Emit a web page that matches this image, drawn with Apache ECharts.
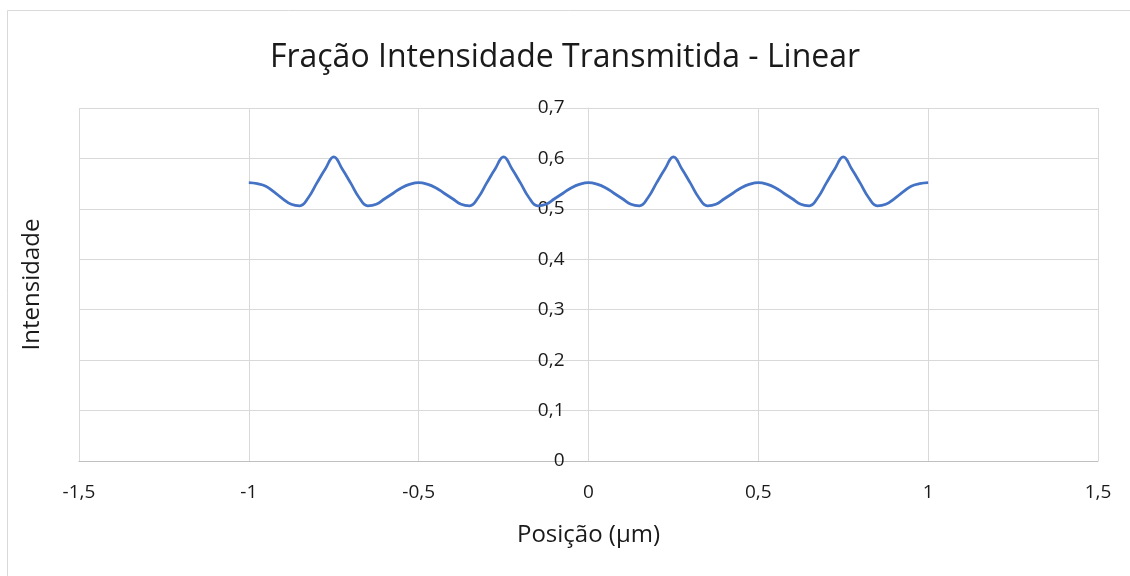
<!DOCTYPE html>
<html>
<head>
<meta charset="utf-8">
<script src="https://cdn.jsdelivr.net/npm/echarts@6/dist/echarts.min.js"></script>
<style>
  html, body { margin: 0; padding: 0; background: #fff; }
  #chart { width: 1130px; height: 576px; }
</style>
</head>
<body>
<div id="chart"></div>
<script>
// Data (position in µm, step 0.025)
const positions = [
  -1.000, -0.975, -0.950, -0.925, -0.900, -0.875, -0.850, -0.825, -0.800, -0.775,
  -0.750, -0.725, -0.700, -0.675, -0.650, -0.625, -0.600, -0.575, -0.550, -0.525,
  -0.500, -0.475, -0.450, -0.425, -0.400, -0.375, -0.350, -0.325, -0.300, -0.275,
  -0.250, -0.225, -0.200, -0.175, -0.150, -0.125, -0.100, -0.075, -0.050, -0.025,
   0.000,  0.025,  0.050,  0.075,  0.100,  0.125,  0.150,  0.175,  0.200,  0.225,
   0.250,  0.275,  0.300,  0.325,  0.350,  0.375,  0.400,  0.425,  0.450,  0.475,
   0.500,  0.525,  0.550,  0.575,  0.600,  0.625,  0.650,  0.675,  0.700,  0.725,
   0.750,  0.775,  0.800,  0.825,  0.850,  0.875,  0.900,  0.925,  0.950,  0.975,
   1.000
];
const intensity = [
  0.552, 0.550, 0.545, 0.533, 0.520, 0.509, 0.506, 0.522, 0.551, 0.579,
  0.603, 0.579, 0.551, 0.522, 0.506, 0.509, 0.520, 0.531, 0.542, 0.549,
  0.552, 0.549, 0.542, 0.531, 0.520, 0.509, 0.506, 0.522, 0.551, 0.579,
  0.603, 0.579, 0.551, 0.522, 0.506, 0.509, 0.520, 0.531, 0.542, 0.549,
  0.552, 0.549, 0.542, 0.531, 0.520, 0.509, 0.506, 0.522, 0.551, 0.579,
  0.603, 0.579, 0.551, 0.522, 0.506, 0.509, 0.520, 0.531, 0.542, 0.549,
  0.552, 0.549, 0.542, 0.531, 0.520, 0.509, 0.506, 0.522, 0.551, 0.579,
  0.603, 0.579, 0.551, 0.522, 0.506, 0.509, 0.520, 0.533, 0.545, 0.550,
  0.552
];
const xTicks = { min: -1.5, max: 1.5, interval: 0.5 };
const yTicks = { min: 0, max: 0.7, interval: 0.1 };
const titleText = 'Fração Intensidade Transmitida - Linear';
const xName = 'Posição (µm)';
const yName = 'Intensidade';

const fmt = v => String(Math.round(v * 10) / 10).replace('.', ',');
const FONT = '"Open Sans", "Noto Sans", sans-serif';
const GRID_LEFT = 79;

const chart = echarts.init(document.getElementById('chart'), null, { renderer: 'canvas' });
chart.setOption({
  backgroundColor: '#ffffff',
  animation: false,
  graphic: [{
    type: 'rect',
    shape: { x: 7.5, y: 10.5, width: 1140, height: 600 },
    style: { fill: 'none', stroke: '#d9d9d9', lineWidth: 1 },
    silent: true
  }],
  title: {
    text: titleText,
    left: 'center',
    top: 37,
    textStyle: { fontFamily: FONT, fontSize: 32, fontWeight: 'normal', color: '#1a1a1a' }
  },
  grid: { left: GRID_LEFT, right: 32, top: 108, bottom: 115, containLabel: false, outerBoundsMode: 'none' },
  xAxis: {
    type: 'value',
    min: xTicks.min, max: xTicks.max, interval: xTicks.interval,
    name: xName,
    nameLocation: 'middle',
    nameGap: 62,
    nameTextStyle: { fontFamily: FONT, fontSize: 24, color: '#1a1a1a' },
    axisLine: { show: true, onZero: false, lineStyle: { color: '#bfbfbf', width: 1 } },
    axisTick: { show: false },
    axisLabel: { margin: 22, fontFamily: FONT, fontSize: 19, color: '#1a1a1a', formatter: fmt },
    splitLine: { show: true, lineStyle: { color: '#d9d9d9', width: 1 } }
  },
  yAxis: {
    type: 'value',
    min: yTicks.min, max: yTicks.max, interval: yTicks.interval,
    name: yName,
    nameLocation: 'middle',
    nameGap: 544,
    nameRotate: 90,
    nameTextStyle: { fontFamily: FONT, fontSize: 24, color: '#1a1a1a' },
    axisLine: { show: true, onZero: false, lineStyle: { color: '#d9d9d9', width: 1 } },
    axisTick: { show: false },
    axisLabel: { margin: 24, fontFamily: FONT, fontSize: 19, color: '#1a1a1a', formatter: fmt },
    splitLine: { show: true, lineStyle: { color: '#d9d9d9', width: 1 } }
  },
  series: [{
    type: 'line',
    data: positions.map((x, i) => [x, intensity[i]]),
    smooth: 0.45,
    showSymbol: false,
    lineStyle: { color: '#4472c4', width: 2.75 },
    itemStyle: { color: '#4472c4' }
  }]
});
// Place the vertical axis where x = 0, as in the reference (axis crosses at zero)
const zeroPx = chart.convertToPixel({ xAxisIndex: 0 }, 0);
chart.setOption({ yAxis: { offset: -(zeroPx - GRID_LEFT) } });
</script>
</body>
</html>
